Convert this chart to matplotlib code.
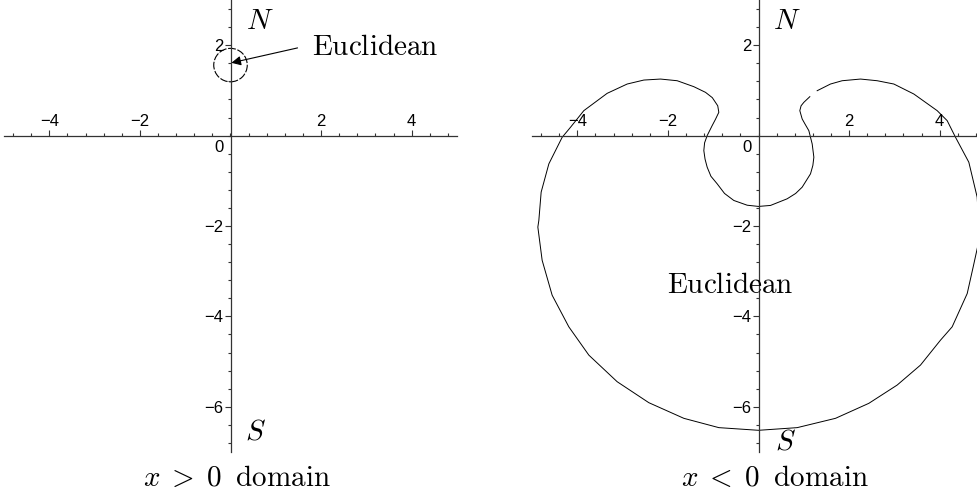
import numpy as np
import matplotlib.pyplot as plt
from matplotlib.patches import Circle
from matplotlib.ticker import MultipleLocator

plt.rcParams['mathtext.fontset'] = 'cm'
plt.rcParams['font.family'] = ['Liberation Sans', 'DejaVu Sans']

#%% data
x_major = [-4, -2, 2, 4]
y_major = [-6, -4, -2, 2]

# left panel: small circle near the north pole
circle_center = (0.0, 1.56)
circle_radius = 0.37

# right panel: the curve, traced from one end of the gap to the other
curve_x = [1.295, 1.589, 1.847, 2.252, 2.620, 2.988, 3.429, 3.944, 4.165, 4.349,
           4.643, 4.827, 4.86, 4.85, 4.739, 4.607, 4.275, 4.018, 3.576, 3.061,
           2.436, 1.700, 0.854, 0.0, -0.876, -1.648, -2.421, -3.120, -3.745, -4.187,
           -4.555, -4.776, -4.871, -4.849, -4.798, -4.628, -4.334, -4.150, -3.856, -3.341,
           -2.899, -2.531, -2.163, -1.795, -1.427, -1.170, -1.02, -0.90, -0.876, -0.95,
           -1.023, -1.133, -1.19, -1.207, -1.18, -1.133, -1.05, -0.912, -0.75, -0.545,
           -0.25, 0.0, 0.265, 0.633, 0.82, 0.964, 1.148, 1.20, 1.222, 1.185,
           1.111, 1.03, 0.964, 0.912, 0.94, 1.001, 1.133]
curve_y = [0.993, 1.141, 1.214, 1.251, 1.214, 1.141, 0.920, 0.552, 0.331, -0.037,
           -0.589, -1.361, -1.9, -2.4, -2.906, -3.495, -4.231, -4.525, -5.077, -5.519,
           -5.923, -6.255, -6.461, -6.52, -6.461, -6.255, -5.909, -5.445, -4.857, -4.231,
           -3.532, -2.759, -2.024, -1.876, -1.251, -0.625, -0.037, 0.184, 0.552, 0.935,
           1.141, 1.229, 1.251, 1.214, 1.082, 0.957, 0.84, 0.66, 0.515, 0.36,
           0.221, 0.0, -0.16, -0.331, -0.52, -0.699, -0.9, -1.067, -1.28, -1.435,
           -1.54, -1.567, -1.545, -1.398, -1.28, -1.141, -0.846, -0.66, -0.478, -0.184,
           0.110, 0.25, 0.368, 0.552, 0.66, 0.736, 0.861]

#%%
def style_axes(ax):
    ax.set_xlim(-5, 5)
    ax.set_ylim(-7, 3)
    ax.patch.set_alpha(0)
    for s in ['bottom', 'right']:
        ax.spines[s].set_visible(False)
    ax.spines['top'].set_position(('data', 0))
    ax.spines['left'].set_position(('data', 0))
    for s in ['top', 'left']:
        ax.spines[s].set_color('#333333')
        ax.spines[s].set_linewidth(0.9)
    ax.xaxis.set_ticks_position('top')
    ax.yaxis.set_ticks_position('left')
    ax.set_xticks(x_major)
    ax.set_yticks(y_major)
    ax.xaxis.set_minor_locator(MultipleLocator(0.4))
    ax.yaxis.set_minor_locator(MultipleLocator(0.4))
    ax.tick_params(which='both', direction='out', color='#333333', width=0.8,
                   labelsize=12, pad=1)
    ax.tick_params(which='major', length=4)
    ax.tick_params(which='minor', length=2.5)
    ax.text(-0.15, -0.1, '0', ha='right', va='top', fontsize=12)


fig = plt.figure(figsize=(9.77, 4.97), dpi=100)
ax1 = fig.add_axes([4/977, 45/497, 453/977, 452/497])
ax2 = fig.add_axes([532/977, 45/497, 453/977, 452/497])

style_axes(ax1)
ax1.add_patch(Circle(circle_center, circle_radius, fill=False, color='k',
                     lw=0.8, ls=(0, (7, 1.5))))
ax1.annotate('', xy=(0.02, 1.61), xytext=(1.48, 1.94),
             arrowprops=dict(arrowstyle='-|>', color='k', lw=0.8,
                             mutation_scale=14, shrinkA=0, shrinkB=0))
ax1.text(1.79, 1.78, r'$\mathrm{Euclidean}$', fontsize=21, va='baseline')
ax1.text(0.35, 2.36, r'$N$', fontsize=21, va='baseline')
ax1.text(0.33, -6.73, r'$S$', fontsize=21, va='baseline')

style_axes(ax2)
ax2.plot(curve_x, curve_y, color='k', lw=0.7)
ax2.text(-2.03, -3.49, r'$\mathrm{Euclidean}$', fontsize=21, va='baseline')
ax2.text(0.33, 2.36, r'$N$', fontsize=21, va='baseline')
ax2.text(0.37, -6.95, r'$S$', fontsize=21, va='baseline')

fig.text(0.243, 0.022, r'$x\;>\;0\;\;\mathrm{domain}$', ha='center', va='baseline', fontsize=21)
fig.text(0.793, 0.022, r'$x\;<\;0\;\;\mathrm{domain}$', ha='center', va='baseline', fontsize=21)

plt.savefig('out.png', dpi=100)
